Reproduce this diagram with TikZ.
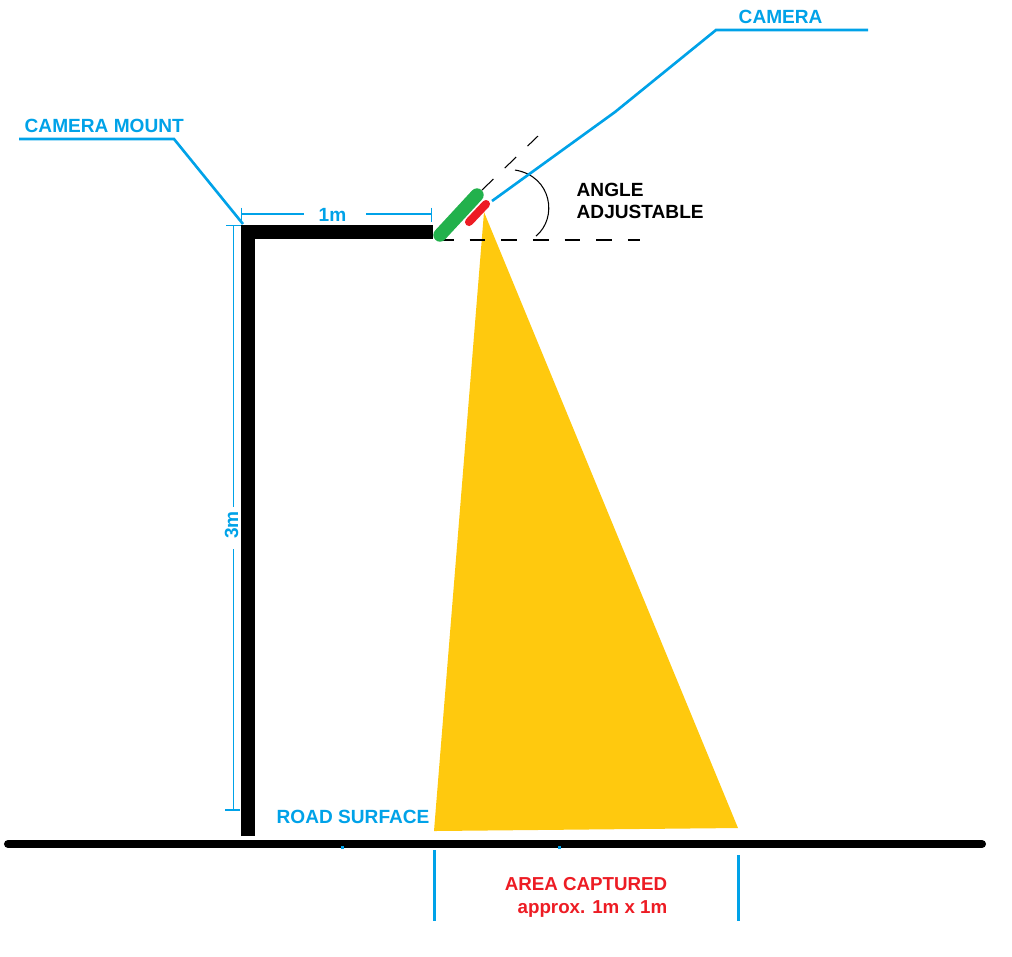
\documentclass[tikz,border=0pt]{standalone}
\usepackage{fontspec}
\setmainfont{Liberation Sans}
\definecolor{dimblue}{HTML}{00A2E8}
\definecolor{camgreen}{HTML}{22B14C}
\definecolor{lensred}{HTML}{ED1C24}
\definecolor{viewyellow}{HTML}{FFC90E}
\tikzset{
	lbl/.style={inner sep=0pt, font=\fontsize{5.43}{6.25}\selectfont\bfseries},
	bluelbl/.style={lbl, text=dimblue},
	redlbl/.style={inner sep=0pt, text=lensred, font=\fontsize{5.33}{6.5}\selectfont\bfseries},
	leader/.style={draw=dimblue, line width=0.75pt},
	dimline/.style={draw=dimblue, line width=0.4pt},
	guide/.style={draw=black, line width=0.3pt, dash pattern=on 4.5pt off 4.5pt},
}
\begin{document}
\begin{tikzpicture}[x=0.01cm,y=-0.01cm]
	\useasboundingbox (0,0) rectangle (1012,956);
	% field of view
	\coordinate (lens) at (484,212);
	\coordinate (viewL) at (434,831);
	\coordinate (viewR) at (738,828);
	\fill[viewyellow] (lens) -- (viewL) -- (viewR) -- cycle;
	% road and mount
	\coordinate (roadL) at (8,844);
	\coordinate (roadR) at (982,844);
	\coordinate (footM) at (248,836);
	\coordinate (cornerM) at (248,232);
	\coordinate (endM) at (433,232);
	\draw[line width=2.28pt, line cap=round] (roadL) -- (roadR);
	\draw[line width=3.98pt] (footM) -- (cornerM) -- (endM);
	% angle guides
	\coordinate (pivot) at (438,240);
	\coordinate (guideH) at (640,240);
	\coordinate (guideA) at (482,190);
	\coordinate (guideB) at (538,136);
	\coordinate (arcA) at (536,236);
	\coordinate (arcB) at (515,170);
	\draw[guide] (pivot) -- (guideH);
	\draw[guide] (guideA) -- (guideB);
	\draw[draw=black, line width=0.3pt] (arcA) .. controls (558,218) and (552,176) .. (arcB);
	% camera
	\coordinate (camA) at (440,235);
	\coordinate (camB) at (477,195);
	\coordinate (redA) at (469,222);
	\coordinate (redB) at (486,204);
	\draw[camgreen, line width=3.8pt, line cap=round] (camA) -- (camB);
	\draw[lensred, line width=2.3pt, line cap=round] (redA) -- (redB);
	% leaders
	\node (camtxt) at (738,23)	[bluelbl, anchor=base west]	{CAMERA};
	\node (mounttxt) at (24,132)	[bluelbl, anchor=base west]	{CAMERA MOUNT};
	\coordinate (camtip) at (492,201);
	\coordinate (camK1) at (615,112);
	\coordinate (camK2) at (716,30);
	\coordinate (camK3) at (868,30);
	\coordinate (mountK1) at (19,139);
	\coordinate (mountK2) at (174,139);
	\coordinate (mounttip) at (243,224);
	\draw[leader] (camtip) -- (camK1) -- (camK2) -- (camK3);
	\draw[leader] (mountK1) -- (mountK2) -- (mounttip);
	% 1m
	\node (onem) at (318,221)	[bluelbl, anchor=base west]	{1m};
	\coordinate (wL) at (241.5,214);
	\coordinate (wLg) at (304,214);
	\coordinate (wRg) at (366,214);
	\coordinate (wR) at (431.5,214);
	\draw[dimline] (wL) -- (wLg);
	\draw[dimline] (wRg) -- (wR);
	\draw[dimline] (241.5,207.5) -- (wL) -- (241.5,222);
	\draw[dimline] (431.5,207.5) -- (wR) -- (431.5,222);
	% 3m
	\node (threem) at (238,525)	[bluelbl, anchor=base, rotate=90]	{3m};
	\coordinate (hT) at (233.5,225.5);
	\coordinate (hTg) at (233.5,507);
	\coordinate (hBg) at (233.5,549);
	\coordinate (hB) at (233.5,810);
	\draw[dimline] (hT) -- (hTg);
	\draw[dimline] (hBg) -- (hB);
	\draw[dimline] (226,225.5) -- (241,225.5);
	\draw[dimline] (225,810) -- (240,810);
	% captured area
	\node (roadtxt) at (276,823)	[bluelbl, anchor=base west]	{ROAD SURFACE};
	\node (angletxt) at (576,201)	[lbl, anchor=west, align=left]	{ANGLE\\ADJUSTABLE};
	\node (areatxt) at (668,897)	[redlbl, anchor=east, align=right]	{AREA CAPTURED\\approx. 1m x 1m};
	\coordinate (areaLt) at (434.5,850);
	\coordinate (areaLb) at (434.5,921);
	\coordinate (areaRt) at (738.5,855);
	\coordinate (areaRb) at (738.5,921);
	\draw[leader] (areaLt) -- (areaLb);
	\draw[leader] (areaRt) -- (areaRb);
	\fill[dimblue] (341,846) rectangle (344,849);
	\fill[dimblue] (558,846) rectangle (561,849);
\end{tikzpicture}
\end{document}
